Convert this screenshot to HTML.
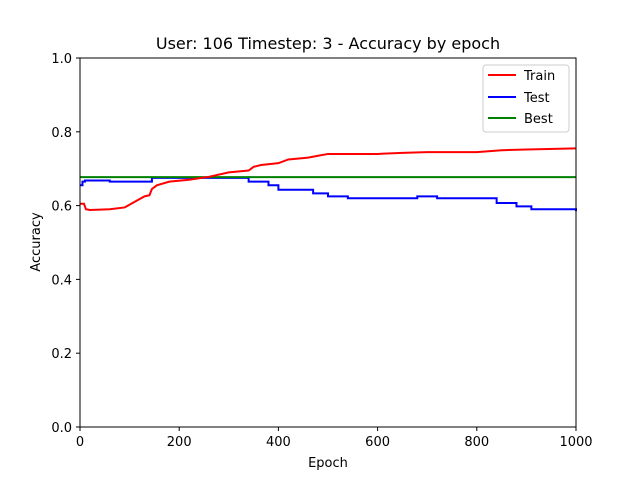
<!DOCTYPE html>
<html><head><meta charset="utf-8"><style>
body{margin:0;background:#fff;font-family:"Liberation Sans","DejaVu Sans",sans-serif}
svg text{font-family:"DejaVu Sans","Liberation Sans",sans-serif;font-size:13px;fill:#000}
</style></head><body>
<svg width="640" height="480" id="c">
<rect width="640" height="480" fill="#fff"/>
<text x="328" y="49" text-anchor="middle" style="font-size:16px">User: 106 Timestep: 3 - Accuracy by epoch</text>
<g id="plot"></g>
<rect x="80" y="58" width="496" height="369" fill="none" stroke="#000" stroke-width="1"/>
<text x="328" y="467" text-anchor="middle">Epoch</text>
<text x="40" y="242" text-anchor="middle" transform="rotate(-90 40 242)">Accuracy</text>
<g>
<rect x="483" y="65" width="86" height="67" rx="3" fill="#fff" stroke="#ccc"/>
<line x1="488" y1="75" x2="516" y2="75" stroke="red" stroke-width="2"/><text x="524" y="80">Train</text>
<line x1="488" y1="97" x2="516" y2="97" stroke="blue" stroke-width="2"/><text x="524" y="102">Test</text>
<line x1="488" y1="118" x2="516" y2="118" stroke="green" stroke-width="2"/><text x="524" y="123">Best</text>
</g>
</svg>
<script>
const xTicks=[0,200,400,600,800,1000];
const yTicks=[0.0,0.2,0.4,0.6,0.8,1.0];
const trainEpochs=[0,8,12,20,60,90,110,130,140,145,155,180,220,260,300,340,350,365,400,420,460,480,500,600,650,700,800,850,900,1000];
const trainAcc=[0.605,0.605,0.59,0.588,0.59,0.595,0.61,0.625,0.628,0.645,0.655,0.665,0.67,0.678,0.69,0.695,0.705,0.71,0.715,0.725,0.73,0.735,0.74,0.74,0.743,0.745,0.745,0.75,0.752,0.755];
const testEpochs=[0,5,10,60,140,145,330,340,380,400,470,500,540,680,720,840,880,910,990,1000];
const testAcc=[0.655,0.665,0.668,0.665,0.665,0.675,0.675,0.665,0.655,0.643,0.633,0.625,0.62,0.625,0.62,0.607,0.598,0.59,0.59,0.585];
const bestAcc=0.677;
const X=e=>80+e*496/1000, Y=v=>427-v*369;
const g=document.getElementById('plot'),ns='http://www.w3.org/2000/svg';
function mk(t,a){const el=document.createElementNS(ns,t);for(const k in a)el.setAttribute(k,a[k]);g.appendChild(el);return el;}
xTicks.forEach(t=>{const l=mk('line',{x1:X(t),x2:X(t),y1:427,y2:431,stroke:'#000'});


const tx=mk('text',{x:X(t),y:446,'text-anchor':'middle'});tx.textContent=t;

});
yTicks.forEach(t=>{const l=mk('line',{x1:76,x2:80,y1:Y(t),y2:Y(t),stroke:'#000'});


const tx=mk('text',{x:72,y:Y(t)+5,'text-anchor':'end'});tx.textContent=t.toFixed(1);

});
function step(xs,ys){let p=[];for(let i=0;i<xs.length;i++){if(i>0)p.push(X(xs[i])+','+Y(ys[i-1]));p.push(X(xs[i])+','+Y(ys[i]));}return p.join(' ');}
function lin(xs,ys){return xs.map((x,i)=>X(x)+','+Y(ys[i])).join(' ');}
const tl=mk('polyline',{points:step(testEpochs,testAcc),fill:'none',stroke:'blue','stroke-width':2});


const bl=mk('line',{x1:X(0),x2:X(1000),y1:Y(bestAcc),y2:Y(bestAcc),stroke:'green','stroke-width':2});


const rl=mk('polyline',{points:lin(trainEpochs,trainAcc),fill:'none',stroke:'red','stroke-width':2});


</script>
</body></html>
